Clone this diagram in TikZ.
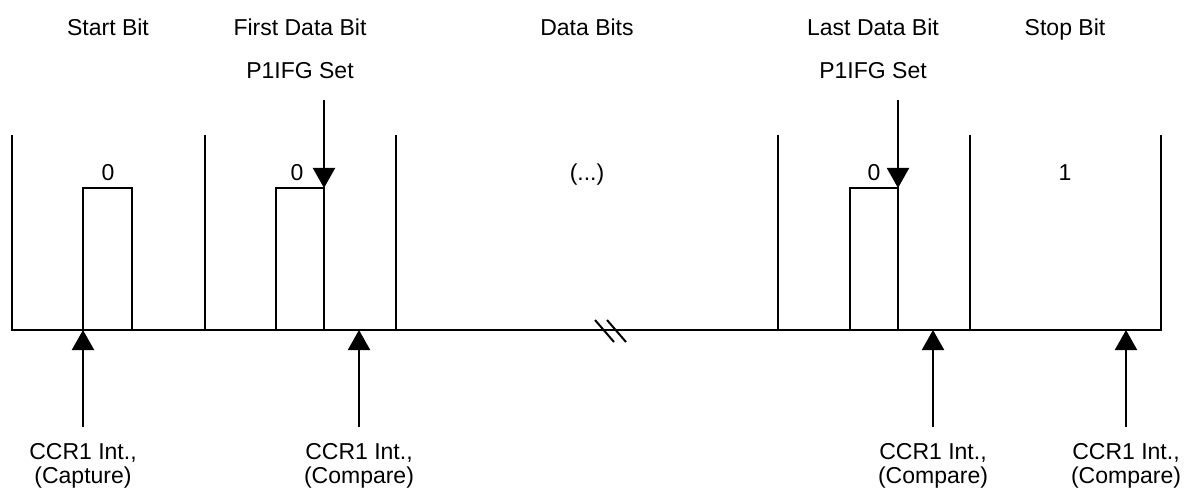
\documentclass[tikz,border=0pt]{standalone}
\usepackage{fontspec}
\setmainfont{Liberation Sans}
\usetikzlibrary{arrows.meta}

\begin{document}
\begin{tikzpicture}[x=0.5pt,y=-0.5pt]
		\tikzstyle{every node}=[font=\fontsize{11.5}{12}\selectfont]
		\tikzstyle{blank} = [align=center, inner sep=0pt, outer sep=0pt]
		\tikzstyle{titulo} = [blank, text height=8.3pt, text depth=2.4pt, yshift=-1.4pt]
		\tikzstyle{linea} = [line width=1pt, line join=miter]
		\tikzstyle{flecha} = [-{Triangle[width=11pt,length=10pt]}, line width=1pt]
		\useasboundingbox (0,0) rectangle (1188,497);

		\draw (108,27) node[titulo](start){Start Bit};
		\draw (300,27) node[titulo](first){First Data Bit};
		\draw (587,27) node[titulo](data){Data Bits};
		\draw (873,27) node[titulo](last){Last Data Bit};
		\draw (1065,27) node[titulo](stop){Stop Bit};
		\draw (300,70) node[titulo](setA){P1IFG Set};
		\draw (873,70) node[titulo](setB){P1IFG Set};

		\draw (108,172) node[titulo](bitA){0};
		\draw (297,172) node[titulo](bitB){0};
		\draw (587,172) node[titulo](bitC){(...)};
		\draw (874,172) node[titulo](bitD){0};
		\draw (1065,172) node[titulo](bitE){1};

		\draw[linea] (12,135) -- (12,330) -- (1161,330) -- (1161,135);
		\draw[linea] (205,135) -- (205,330);
		\draw[linea] (396,135) -- (396,330);
		\draw[linea] (778,135) -- (778,330);
		\draw[linea] (970,135) -- (970,330);
		\draw[linea] (83,330) |- (132,188) -- (132,330);
		\draw[linea] (276,330) |- (324,188) -- (324,330);
		\draw[linea] (850,330) |- (898,188) -- (898,330);
		\draw[linea] (595,320) -- (614,342);
		\draw[linea] (607,320) -- (626,342);

		\coordinate (inA) at (324,100);
		\coordinate (topA) at (324,188);
		\coordinate (inB) at (898,100);
		\coordinate (topB) at (898,188);
		\draw[flecha] (inA) -- (topA);
		\draw[flecha] (inB) -- (topB);

		\coordinate (capt) at (83,427);
		\coordinate (captT) at (83,330);
		\coordinate (cmpA) at (359,427);
		\coordinate (cmpAT) at (359,330);
		\coordinate (cmpB) at (933,427);
		\coordinate (cmpBT) at (933,330);
		\coordinate (cmpC) at (1126,427);
		\coordinate (cmpCT) at (1126,330);
		\draw[flecha] (capt) -- (captT);
		\draw[flecha] (cmpA) -- (cmpAT);
		\draw[flecha] (cmpB) -- (cmpBT);
		\draw[flecha] (cmpC) -- (cmpCT);
		\draw (83,466) node[blank](lcapt){CCR1 Int.,\\(Capture)};
		\draw (359,466) node[blank](lcmpA){CCR1 Int.,\\(Compare)};
		\draw (933,466) node[blank](lcmpB){CCR1 Int.,\\(Compare)};
		\draw (1126,466) node[blank](lcmpC){CCR1 Int.,\\(Compare)};
	\end{tikzpicture}
\end{document}
